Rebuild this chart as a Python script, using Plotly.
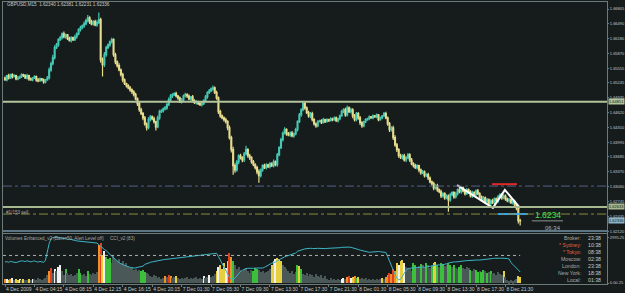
import plotly.graph_objects as go

# ---------------- data ----------------
closes = [
1.6531,1.6540,1.6535,1.6542,1.6538,1.6540,1.6533,1.6535,1.6538,1.6542,
1.6540,1.6535,1.6540,1.6533,1.6531,1.6535,1.6538,1.6531,1.6529,1.6533,
1.6531,1.6527,1.6531,1.6535,1.6552,1.6565,1.6578,1.6599,1.6605,1.6616,
1.6620,1.6628,1.6622,1.6626,1.6618,1.6614,1.6620,1.6616,1.6622,1.6628,
1.6637,1.6641,1.6645,1.6649,1.6656,1.6662,1.6654,1.6649,1.6654,1.6647,
1.6652,1.6658,1.6573,1.6563,1.6584,1.6599,1.6605,1.6611,1.6616,1.6584,
1.6569,1.6561,1.6552,1.6542,1.6531,1.6523,1.6519,1.6514,1.6510,1.6506,
1.6500,1.6491,1.6481,1.6468,1.6460,1.6451,1.6438,1.6430,1.6447,1.6453,
1.6449,1.6443,1.6432,1.6451,1.6464,1.6466,1.6470,1.6472,1.6479,1.6489,
1.6497,1.6500,1.6502,1.6497,1.6493,1.6485,1.6489,1.6497,1.6500,1.6497,
1.6491,1.6495,1.6487,1.6483,1.6485,1.6481,1.6479,1.6481,1.6487,1.6495,
1.6504,1.6508,1.6512,1.6514,1.6504,1.6493,1.6464,1.6455,1.6451,1.6447,
1.6443,1.6430,1.6409,1.6384,1.6350,1.6341,1.6358,1.6371,1.6367,1.6362,
1.6375,1.6384,1.6371,1.6367,1.6358,1.6352,1.6346,1.6337,1.6329,1.6341,
1.6350,1.6346,1.6352,1.6348,1.6354,1.6350,1.6358,1.6352,1.6373,1.6388,
1.6405,1.6419,1.6426,1.6417,1.6415,1.6419,1.6413,1.6417,1.6426,1.6443,
1.6457,1.6468,1.6481,1.6472,1.6462,1.6455,1.6460,1.6447,1.6438,1.6434,
1.6443,1.6445,1.6441,1.6447,1.6443,1.6447,1.6445,1.6449,1.6447,1.6451,
1.6445,1.6449,1.6455,1.6464,1.6468,1.6457,1.6472,1.6464,1.6468,1.6455,
1.6447,1.6460,1.6451,1.6441,1.6434,1.6443,1.6447,1.6449,1.6453,1.6451,
1.6455,1.6453,1.6457,1.6447,1.6451,1.6455,1.6460,1.6451,1.6438,1.6426,
1.6430,1.6409,1.6394,1.6384,1.6371,1.6367,1.6371,1.6362,1.6367,1.6373,
1.6362,1.6354,1.6350,1.6346,1.6350,1.6341,1.6335,1.6337,1.6329,1.6331,
1.6324,1.6316,1.6312,1.6303,1.6308,1.6299,1.6295,1.6286,1.6291,1.6282,
1.6286,1.6278,1.6289,1.6293,1.6284,1.6291,1.6299,1.6295,1.6303,1.6297,
1.6291,1.6299,1.6295,1.6286,1.6293,1.6289,1.6297,1.6291,1.6284,1.6278,
1.6282,1.6274,1.6278,1.6270,1.6276,1.6272,1.6280,1.6276,1.6284,1.6289,
1.6282,1.6286,1.6280,1.6276,1.6278,1.6272,1.6274,1.6268,1.6261,1.6234,
1.62336]
first_open = 1.6535

# wick sizes in pips above / below the candle body
wick_up = [
3,2,4,2,3,3,2,4,2,3, 2,3,4,2,3,2,3,2,4,3, 2,3,2,4,5,4,6,5,4,3, 4,3,5,3,2,4,3,2,4,3,
3,4,3,5,4,6,3,4,3,4, 5,15,4,5,6,4,3,3,4,3, 4,3,5,3,4,3,2,3,4,3, 3,4,3,5,4,3,4,3,5,4,
3,4,2,5,4,3,3,4,3,5, 4,3,3,4,2,3,4,3,4,3, 3,2,4,3,3,2,3,4,3,4, 3,4,3,5,3,4,3,4,3,3,
4,3,5,4,6,5,4,3,4,3, 4,8,3,4,3,4,3,4,5,3, 3,4,3,2,4,3,5,3,4,3, 4,3,5,3,4,3,4,3,4,3,
4,3,5,4,3,4,3,4,3,3, 3,2,3,4,2,3,2,3,2,3, 3,2,3,4,3,4,5,3,4,3, 4,3,3,4,3,2,3,2,3,2,
3,2,3,2,3,2,3,4,3,4, 3,4,5,4,3,4,3,4,3,4, 3,4,3,4,3,2,3,4,3,3, 4,3,3,4,3,4,3,4,3,3,
4,3,4,3,3,4,3,4,3,3, 3,4,3,3,4,3,3,4,3,3, 4,3,4,3,3,4,3,3,4,3, 3,4,3,3,4,3,3,4,3,5,
4]
wick_dn = [
2,3,3,2,4,2,3,3,2,3, 3,2,3,4,2,3,2,4,3,2, 3,4,3,2,3,4,3,4,3,4, 3,4,3,4,3,2,4,3,3,4,
3,4,3,4,3,4,5,3,4,3, 4,3,6,25,5,4,3,4,3,4, 5,4,3,4,5,3,4,3,4,5, 4,3,5,4,3,5,4,6,3,4,
3,4,8,3,4,3,4,3,4,3, 3,4,3,3,4,3,4,3,3,4, 3,4,3,3,4,3,3,4,3,3, 4,3,3,4,3,4,5,4,3,4,
4,5,4,6,19,6,4,5,4,5, 4,3,4,5,4,3,4,5,15,4, 4,3,4,3,4,3,4,3,4,3, 3,4,3,4,3,4,3,4,3,4,
3,4,3,4,3,4,5,4,3,4, 3,2,3,2,3,2,3,2,3,2, 3,4,3,2,3,4,3,3,4,5, 4,3,4,5,4,3,3,2,3,2,
3,2,3,3,2,3,2,3,4,5, 4,5,4,5,4,3,4,3,4,3, 4,3,4,3,4,5,4,3,4,3, 4,3,4,5,3,4,3,4,3,4,
3,25,4,3,4,3,4,3,4,3, 4,3,4,3,4,3,4,3,4,3, 4,3,5,3,4,3,4,3,4,3, 4,3,4,3,4,3,4,3,5,6,
10]

volumes = [
260,260,195,260,325,195,260,195,260,195, 260,195,195,260,195,260,260,195,325,260,
195,260,325,520,780,975,650,910,780,1040, 1170,780,520,910,650,520,585,455,520,650,
910,650,520,585,455,780,585,520,650,585, 715,2470,2600,1820,2080,1690,1560,1625,1300,1820,
1560,1430,1560,1300,1430,1170,1300,1105,975,1040, 845,910,780,845,780,845,715,650,585,455,
390,520,455,325,390,260,325,455,390,520, 455,325,390,455,325,260,325,260,325,390,
260,325,260,325,390,260,325,260,455,325, 390,520,390,455,585,780,1040,1170,910,1300,
975,1430,1950,1690,1430,1170,910,1040,845,780, 910,975,780,650,845,780,975,910,845,715,
780,650,715,780,910,1170,1430,1560,1625,1560, 1430,1170,1040,910,780,650,780,585,715,1170,
1105,910,585,520,650,455,585,520,390,585, 455,390,520,325,455,260,195,325,195,260,
195,260,195,260,325,260,390,455,325,390, 455,325,390,260,325,260,325,195,260,195,
260,195,260,195,260,325,260,390,520,650, 585,910,780,1300,1170,1430,1495,1300,1040,975,
910,780,1300,1170,975,1105,1235,1170,1040,1300, 1170,975,1105,1300,1365,1170,1040,1300,1235,1105,
1170,1300,1170,1040,1170,975,910,1040,1170,975, 910,1040,975,845,780,910,845,715,780,715,
845,780,650,715,780,585,650,520,715,585, 520,780,390,195,130,195,130,195,260,455,
390]
# volume colour class: g grey, G green, Y yellow, O orange, R red, W white
vol_class = list(
"OWYOWgYYWg" "YggYgWgggg" "ggggORgWgW" "WggGgggggg"
"GGgggGgggg" "gORYWGGGgg" "gggggggggg" "ggggGGGggg"
"gggggggOgR" "OggYgggggg" "ggggggggWg" "gWgggYWYYY"
"WYROGggggg" "gggggGGGgg" "gggggYYWYY" "YggggggggG"
"YGgggggggg" "gggggggggg" "gggWWgORWY" "OGYggggggg"
"gggggYgOOR" "OROYWYYWgg" "ggGGggGggG" "ggGYYGgGGg"
"gGGgGggGGg" "gggGggGGgG" "GgGgGggggg" "gYgggggggY" "Y")

cci = [
45,48,42,50,46,44,40,45,50,55, 52,48,55,50,46,50,54,48,44,50,
48,42,60,130,200,240,250,250,255,252, 248,250,246,240,236,238,232,228,226,222,
220,218,215,214,212,210,212,208,206,205, 204,190,175,160,150,140,128,110,95,80,
65,52,40,30,22,15,10,5,0,-5, -6,-4,-2,0,5,10,25,32,38,42,
46,50,54,58,60,62,64,66,68,70, 72,74,76,78,79,80,82,84,85,86,
88,90,93,96,99,102,104,106,108,110, 113,116,118,120,120,118,90,60,30,5,
-30,-60,-85,-100,-106,-90,-70,-50,-35,-25, -15,-10,-8,-10,-8,-8,-6,-6,-7,-8,
-6,0,10,20,28,35,40,44,55,65, 75,82,88,94,100,106,112,116,120,135,
142,146,150,155,158,160,160,158,156,158, 160,158,156,155,157,159,160,158,156,157,
160,162,165,168,170,172,171,170,168,165, 160,155,150,145,140,135,130,128,126,128,
130,132,134,133,131,130,128,125,90,50, 10,-20,-60,-90,-105,-100,-80,-50,-25,-10,
-8,-5,-6,-3,0,-2,2,3,0,4, 6,10,12,15,18,20,18,20,22,24,
30,36,40,44,46,45,48,50,52,54, 55,56,58,60,60,58,60,62,61,62,
64,66,68,70,72,74,76,78,78,76, 77,78,75,74,70,40,25,10,-5,-25,
-39]
cci_level = 100

time_tick_idx = [0,16,32,48,64,80,96,112,128,144,160,176,192,208,224,240,256,272]
time_tick_txt = ["4 Dec 2009","4 Dec 04:15","4 Dec 08:15","4 Dec 12:15","4 Dec 16:15",
                 "4 Dec 20:15","7 Dec 01:30","7 Dec 05:30","7 Dec 09:30","7 Dec 13:30",
                 "7 Dec 17:30","7 Dec 21:30","8 Dec 01:30","8 Dec 05:30","8 Dec 09:30",
                 "8 Dec 13:30","8 Dec 17:30","8 Dec 21:30"]
price_ticks = [1.66805,1.66490,1.66180,1.65870,1.65555,1.65245,1.64935,1.64620,
               1.64310,1.63995,1.63685,1.63370,1.63060,1.62745,1.62435,1.62120]

# drawn objects
zigzag_x = [245.7, 265.2, 271.7, 279.9]
zigzag_y = [1.6309, 1.6261, 1.6299, 1.6261]
red_x = [264.7, 278.3]; red_y = [1.6311, 1.6311]
blue_x = [268.0, 284.2]; blue_y = [1.6248, 1.6248]
bid_x = [286.4, 303.3]; bid_y = [1.62336, 1.62336]
hlines_solid = [(1.64851, "#b4c49c"), (1.6263, "#a8b890"), (1.6212, "#5c7484")]
hlines_dash = [(1.6307, "#56608a"), (1.6248, "#8c8a3c")]

clock_names = ["Broker:", "* Sydney:", "* Tokyo:", "Moscow:", "London:", "New York:", "Local:"]
clock_times = ["23:38", "10:38", "08:38", "02:38", "23:38", "18:38", "01:38"]
clock_cols = ["#a8a8a8", "#e0603c", "#e0603c", "#a8a8a8", "#a8a8a8", "#a8a8a8", "#a8a8a8"]

# ---------------- build ----------------
n = len(closes)
xs = list(range(n))
opens = [first_open] + closes[:-1]
highs = [max(o, c) + u / 10000 for o, c, u in zip(opens, closes, wick_up)]
lows = [min(o, c) - d / 10000 for o, c, d in zip(opens, closes, wick_dn)]

BG = "#161c1c"
BULL = "#44c8b4"
BEAR = "#e6dc8c"
FONT = "Liberation Sans, Arial, sans-serif"
cmap = {"g": "#4a5858", "G": "#3cc03c", "Y": "#e6d040", "O": "#f09028", "R": "#e04020", "W": "#f0f0f0"}

W, H = 625, 293
L, R, T, B = 3, 18, 2, 9
def fx(px):
    return (px - L) / (W - L - R)
def fy(py):
    return (H - B - py) / (H - T - B)

fig = go.Figure()
fig.add_trace(go.Candlestick(
    x=xs, open=opens, high=highs, low=lows, close=closes,
    increasing=dict(line=dict(color=BULL, width=1.2), fillcolor=BULL),
    decreasing=dict(line=dict(color=BEAR, width=1.2), fillcolor=BEAR),
    whiskerwidth=0, xaxis="x", yaxis="y", showlegend=False, hoverinfo="skip"))
fig.add_trace(go.Scatter(x=zigzag_x, y=zigzag_y, mode="lines", line=dict(color="#ffffff", width=2),
                         xaxis="x", yaxis="y", showlegend=False, hoverinfo="skip"))
fig.add_trace(go.Scatter(x=red_x, y=red_y, mode="lines", line=dict(color="#e02828", width=2),
                         xaxis="x", yaxis="y", showlegend=False, hoverinfo="skip"))
fig.add_trace(go.Scatter(x=blue_x, y=blue_y, mode="lines", line=dict(color="#3ca8e8", width=2),
                         xaxis="x", yaxis="y", showlegend=False, hoverinfo="skip"))
fig.add_trace(go.Scatter(x=bid_x, y=bid_y, mode="lines", line=dict(color="#8c9494", width=1),
                         xaxis="x", yaxis="y", showlegend=False, hoverinfo="skip"))

fig.add_trace(go.Bar(x=xs, y=volumes, marker=dict(color=[cmap[c] for c in vol_class], line=dict(width=0)),
                     width=0.62, xaxis="x2", yaxis="y2", showlegend=False, hoverinfo="skip"))
fig.add_trace(go.Scatter(x=xs, y=cci, mode="lines", line=dict(color="#3cb4c4", width=1),
                         xaxis="x2", yaxis="y3", showlegend=False, hoverinfo="skip"))

xr = [-1.09, 327.2]
main_dom = [fy(233), 1.0]
ind_dom = [0.0, fy(234)]
frame = "#6c7a7a"
tickfont = dict(family=FONT, size=5, color="#c8c8c8")
ytickfont = dict(family=FONT, size=4.0, color="#c8c8c8")

fig.update_layout(
    width=W, height=H, margin=dict(l=L, r=R, t=T, b=B, autoexpand=False),
    paper_bgcolor=BG, plot_bgcolor=BG, showlegend=False, bargap=0,
    xaxis=dict(domain=[0, 1], range=xr, anchor="y", showticklabels=False, showgrid=False,
               zeroline=False, showline=True, mirror=True, linecolor=frame, linewidth=1,
               rangeslider=dict(visible=False), ticks="", automargin=False),
    yaxis=dict(domain=main_dom, range=[1.62080, 1.66953], side="right", showgrid=False,
               zeroline=False, showline=True, mirror=True, linecolor=frame, linewidth=1,
               tickvals=price_ticks, ticktext=["%.5f" % v for v in price_ticks],
               ticks="outside", ticklen=1, tickcolor=frame, tickfont=ytickfont,
               ticklabelstandoff=0, automargin=False),
    xaxis2=dict(domain=[0, 1], range=xr, anchor="y2", showgrid=False, zeroline=False,
                showline=True, mirror=True, linecolor=frame, linewidth=1,
                tickvals=time_tick_idx, ticktext=time_tick_txt, ticks="outside", ticklen=2,
                tickcolor=frame, ticklabelposition="outside right", tickangle=0,
                tickfont=tickfont, automargin=False),
    yaxis2=dict(domain=ind_dom, range=[-60, 3200], side="right", showgrid=False, zeroline=False,
                showline=True, mirror=True, linecolor=frame, linewidth=1,
                tickvals=[0, 2995.25], ticktext=["0.00.25", "2995.25"], ticks="outside",
                ticklen=1, tickcolor=frame, tickfont=ytickfont, ticklabelstandoff=0,
                automargin=False),
    yaxis3=dict(domain=ind_dom, range=[-140, 280], overlaying="y2", side="right",
                showticklabels=False, showgrid=False, zeroline=False, anchor="x2", automargin=False),
)

shapes = []
for lvl, col in hlines_solid:
    shapes.append(dict(type="line", xref="x", x0=xr[0], x1=xr[1], yref="y", y0=lvl, y1=lvl,
                       line=dict(color=col, width=2)))
for lvl, col in hlines_dash:
    shapes.append(dict(type="line", xref="x", x0=xr[0], x1=xr[1], yref="y", y0=lvl, y1=lvl,
                       line=dict(color=col, width=1, dash="dashdot")))
shapes.append(dict(type="line", xref="x2", x0=xr[0], x1=280, yref="y3", y0=cci_level, y1=cci_level,
                   line=dict(color="#b0b0b0", width=1, dash="dot")))
fig.update_layout(shapes=shapes)

ann = []
def txt(px, py, s, size=4.6, color="#c8c8c8", anchor="left"):
    ann.append(dict(xref="paper", yref="paper", x=fx(px), y=fy(py), text=s, showarrow=False,
                    xanchor=anchor, yanchor="middle", font=dict(family=FONT, size=size, color=color)))

txt(5, 5, "GBPUSD,M15  1.62340 1.62381 1.62231 1.62336")
txt(4, 212, "#1/153 sell", color="#a8a8a8")
txt(3, 238, "Volumes Enhanced_v2 (Bars=50, Alert Level off)", color="#a8a8a8")
txt(108, 238, "CCI_v2 (83)", color="#a8a8a8")
txt(563, 215, "1.6234", size=8.5, color="#48e048", anchor="right")
txt(563, 228, "06:34", size=6, color="#b0b0b0", anchor="right")
rows_y = [238, 245, 252, 259, 266, 273, 280]
for nm, tm, col, ry in zip(clock_names, clock_times, clock_cols, rows_y):
    txt(583, ry, nm, size=5.2, color=col, anchor="right")
    txt(586, ry, tm, size=5.2, color="#c8c8c8")

# highlighted price labels on the axis
for lvl, s, bg, fg in [(1.64851, "1.64851", "#b4c49c", "#10180c"), (1.6263, "1.62633", "#a8b890", "#10180c"),
                       (1.62336, "1.62336", "#8cb4c4", "#10181c")]:
    ann.append(dict(xref="paper", yref="y", x=1.0, y=lvl, text=s, showarrow=False, xanchor="left",
                    xshift=1, yanchor="middle", bgcolor=bg, borderpad=0,
                    font=dict(family=FONT, size=4.0, color=fg)))
fig.update_layout(annotations=ann)

fig.write_html("out.html")
